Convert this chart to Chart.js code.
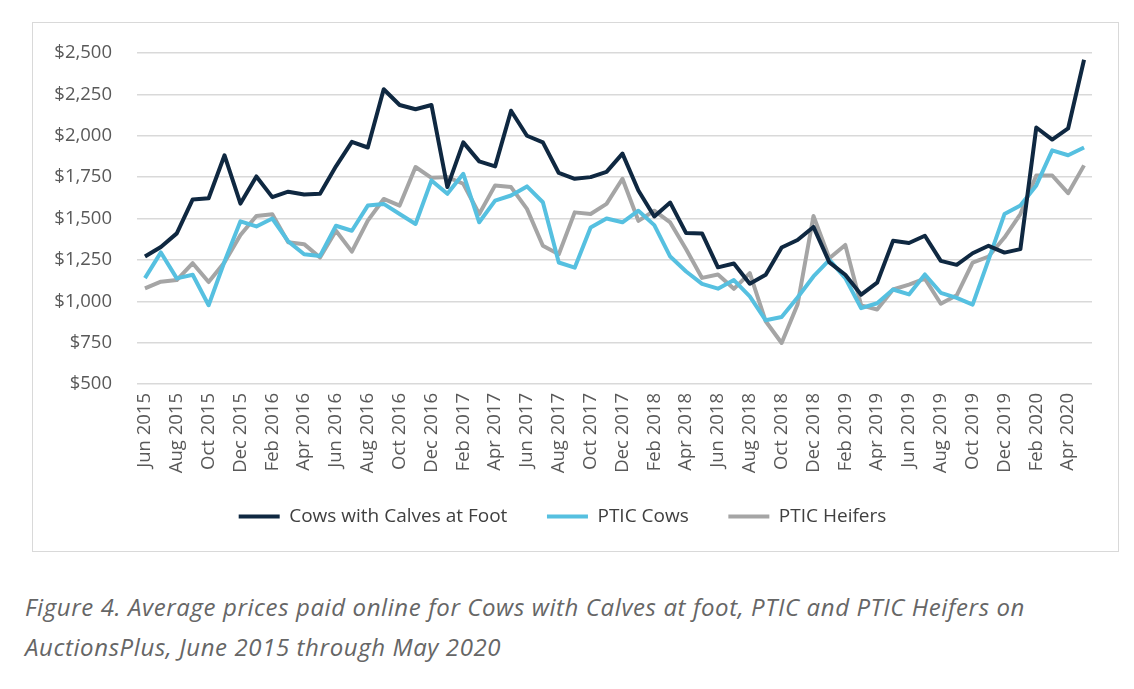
<!DOCTYPE html>
<html>
<head>
<meta charset="utf-8">
<script src="https://cdn.jsdelivr.net/npm/chart.js@4"></script>
<style>
  body { margin: 0; background: #fff; }
  #box {
    position: absolute; left: 32px; top: 22px;
    width: 1085px; height: 528px;
    border: 1px solid #d9d9d9; background: #fff;
  }
  #caption {
    position: absolute; left: 25px; top: 587px;
    font-family: "Open Sans", sans-serif; font-style: italic;
    font-size: 24px; letter-spacing: 0.6px; line-height: 40px; color: #666;
  }
</style>
</head>
<body>
<div id="box"><canvas id="priceChart" width="1085" height="528"></canvas></div>
<div id="caption">Figure 4. Average prices paid online for Cows with Calves at foot, PTIC and PTIC Heifers on<br>AuctionsPlus, June 2015 through May 2020</div>
<script>
// months, Jun 2015 - May 2020
const months = [
  'Jun 2015', 'Jul 2015', 'Aug 2015', 'Sep 2015', 'Oct 2015', 'Nov 2015', 'Dec 2015',
  'Jan 2016', 'Feb 2016', 'Mar 2016', 'Apr 2016', 'May 2016', 'Jun 2016', 'Jul 2016',
  'Aug 2016', 'Sep 2016', 'Oct 2016', 'Nov 2016', 'Dec 2016', 'Jan 2017', 'Feb 2017',
  'Mar 2017', 'Apr 2017', 'May 2017', 'Jun 2017', 'Jul 2017', 'Aug 2017', 'Sep 2017',
  'Oct 2017', 'Nov 2017', 'Dec 2017', 'Jan 2018', 'Feb 2018', 'Mar 2018', 'Apr 2018',
  'May 2018', 'Jun 2018', 'Jul 2018', 'Aug 2018', 'Sep 2018', 'Oct 2018', 'Nov 2018',
  'Dec 2018', 'Jan 2019', 'Feb 2019', 'Mar 2019', 'Apr 2019', 'May 2019', 'Jun 2019',
  'Jul 2019', 'Aug 2019', 'Sep 2019', 'Oct 2019', 'Nov 2019', 'Dec 2019', 'Jan 2020',
  'Feb 2020', 'Mar 2020', 'Apr 2020', 'May 2020'
];

const cowsWithCalves = [
  1270, 1328, 1410, 1615, 1622, 1882, 1590, 1754, 1629, 1662,
  1645, 1650, 1815, 1963, 1929, 2281, 2186, 2160, 2186, 1690,
  1960, 1845, 1815, 2151, 2000, 1960, 1775, 1740, 1750, 1782,
  1892, 1669, 1512, 1596, 1412, 1410, 1205, 1228, 1106, 1160,
  1325, 1370, 1449, 1235, 1160, 1040, 1112, 1365, 1352, 1396,
  1244, 1220, 1290, 1335, 1294, 1315, 2050, 1977, 2044, 2459
];

const pticCows = [
  1140, 1295, 1138, 1160, 976, 1240, 1483, 1452, 1500, 1362,
  1284, 1274, 1456, 1426, 1578, 1588, 1527, 1467, 1730, 1649,
  1770, 1477, 1608, 1639, 1694, 1598, 1234, 1203, 1446, 1500,
  1477, 1547, 1460, 1270, 1180, 1105, 1076, 1128, 1030, 885,
  905, 1023, 1150, 1250, 1140, 958, 988, 1071, 1041, 1162,
  1051, 1020, 980, 1250, 1527, 1578, 1700, 1912, 1882, 1929
];

const pticHeifers = [
  1078, 1118, 1128, 1230, 1116, 1235, 1400, 1515, 1525, 1356,
  1345, 1264, 1426, 1300, 1487, 1618, 1578, 1811, 1746, 1750,
  1710, 1527, 1700, 1690, 1558, 1335, 1284, 1537, 1527, 1588,
  1740, 1486, 1547, 1476, 1314, 1141, 1162, 1075, 1170, 879,
  748, 980, 1515, 1260, 1340, 975, 950, 1071, 1101, 1137,
  985, 1036, 1234, 1270, 1385, 1527, 1760, 1760, 1653, 1821
];

const yTicks = [500, 750, 1000, 1250, 1500, 1750, 2000, 2250, 2500];

function series(label, data, colour) {
  return {
    label: label,
    data: data,
    borderColor: colour,
    backgroundColor: colour,
    borderWidth: 4,
    borderJoinStyle: 'round',
    pointRadius: 0,
    tension: 0
  };
}

const tickFont = { family: 'Open Sans', size: 18.5 };

const config = {
  type: 'line',
  data: {
    labels: months,
    datasets: [
      series('Cows with Calves at Foot', cowsWithCalves, '#0f2841'),
      series('PTIC Cows', pticCows, '#56c0e0'),
      series('PTIC Heifers', pticHeifers, '#a5a5a5')
    ]
  },
  options: {
    responsive: false,
    devicePixelRatio: 1,
    animation: false,
    layout: { padding: { left: 0, right: 26, top: 30, bottom: 15 } },
    plugins: {
      tooltip: { enabled: false },
      legend: {
        position: 'bottom',
        labels: {
          usePointStyle: true,
          pointStyle: 'line',
          pointStyleWidth: 41,
          padding: 10,
          color: '#404040',
          font: { family: 'Open Sans', size: 19 },
          // wider gap between the items, like the original
          generateLabels: function(chart) {
            const items = Chart.defaults.plugins.legend.labels.generateLabels(chart);
            items.forEach((item, i) => {
              if (i < items.length - 1) item.text += '      ';
            });
            return items;
          }
        }
      }
    },
    scales: {
      x: {
        offset: true,
        grid: { display: false, drawTicks: false },
        border: { display: false },
        afterFit: function(scale) { scale.height = 113; },
        ticks: {
          autoSkip: false,
          minRotation: 90,
          maxRotation: 90,
          padding: 9,
          color: '#595959',
          font: tickFont,
          callback: function(val, i) {
            return i % 2 === 0 ? months[i] : '';
          }
        }
      },
      y: {
        min: 500,
        max: 2500,
        afterFit: function(scale) { scale.width = 104; },
        afterBuildTicks: function(scale) {
          scale.ticks = yTicks.map(v => ({ value: v }));
        },
        // invisible tick marks give the gap between labels and grid
        grid: { color: '#d9d9d9', lineWidth: 1.5, drawTicks: true, tickLength: 22, tickColor: 'rgba(0,0,0,0)' },
        border: { display: false },
        ticks: {
          padding: 3,
          color: '#595959',
          font: tickFont,
          callback: v => '$' + v.toLocaleString('en-US')
        }
      }
    }
  }
};

var myChart = new Chart(document.getElementById('priceChart'), config);
</script>
</body>
</html>
